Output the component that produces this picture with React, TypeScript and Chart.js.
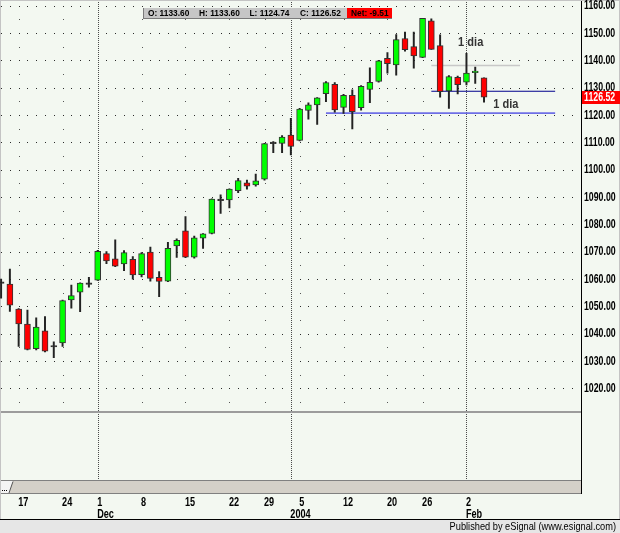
import React, { useEffect, useRef } from "react";
import { Chart, registerables } from "chart.js";

Chart.register(...registerables);

// ---- data (S&P 500 daily, Nov 13 2003 - Feb 4 2004) ----
const dates = [
  "2003-11-13", "2003-11-14", "2003-11-17", "2003-11-18", "2003-11-19", "2003-11-20", "2003-11-21",
  "2003-11-24", "2003-11-25", "2003-11-26", "2003-11-28",
  "2003-12-01", "2003-12-02", "2003-12-03", "2003-12-04", "2003-12-05",
  "2003-12-08", "2003-12-09", "2003-12-10", "2003-12-11", "2003-12-12",
  "2003-12-15", "2003-12-16", "2003-12-17", "2003-12-18", "2003-12-19",
  "2003-12-22", "2003-12-23", "2003-12-24", "2003-12-26",
  "2003-12-29", "2003-12-30", "2003-12-31", "2004-01-02",
  "2004-01-05", "2004-01-06", "2004-01-07", "2004-01-08", "2004-01-09",
  "2004-01-12", "2004-01-13", "2004-01-14", "2004-01-15", "2004-01-16",
  "2004-01-20", "2004-01-21", "2004-01-22", "2004-01-23",
  "2004-01-26", "2004-01-27", "2004-01-28", "2004-01-29", "2004-01-30",
  "2004-02-02", "2004-02-03", "2004-02-04",
];
const opens = [
  1058.6, 1058.1, 1049.0, 1043.5, 1034.5, 1041.0, 1035.1,
  1036.6, 1052.3, 1055.2, 1058.0,
  1059.6, 1069.3, 1067.4, 1065.5, 1067.2,
  1061.6, 1069.8, 1060.6, 1059.2, 1072.1,
  1077.6, 1068.0, 1074.9, 1076.7, 1088.9,
  1088.9, 1092.3, 1095.2, 1094.4,
  1096.5, 1109.5, 1109.6, 1112.7,
  1110.7, 1121.7, 1123.7, 1127.8, 1131.2,
  1122.8, 1127.2, 1122.7, 1129.4, 1132.3,
  1140.7, 1138.3, 1148.0, 1145.0,
  1141.1, 1154.5, 1145.4, 1128.8, 1133.8,
  1132.0, 1135.5, 1133.6,
];
const highs = [
  1060.0, 1063.6, 1049.2, 1048.6, 1045.8, 1046.2, 1037.0,
  1052.3, 1057.8, 1058.6, 1060.6,
  1070.5, 1070.0, 1074.3, 1070.4, 1068.2,
  1069.7, 1071.7, 1062.7, 1073.4, 1074.7,
  1082.8, 1075.7, 1076.6, 1089.3, 1090.8,
  1093.0, 1096.8, 1096.2, 1098.4,
  1109.6, 1110.3, 1112.5, 1118.8,
  1122.4, 1124.5, 1126.4, 1132.2, 1131.9,
  1127.6, 1129.2, 1130.8, 1137.3, 1140.0,
  1142.8, 1149.4, 1150.3, 1150.3,
  1155.4, 1155.2, 1149.3, 1134.4, 1134.2,
  1142.6, 1137.5, 1133.6,
];
const lows = [
  1053.0, 1048.1, 1035.3, 1034.0, 1034.0, 1033.3, 1031.2,
  1035.3, 1049.3, 1048.0, 1057.0,
  1059.5, 1065.6, 1064.5, 1063.0, 1059.9,
  1060.8, 1059.2, 1053.5, 1059.0, 1067.9,
  1067.8, 1067.6, 1071.2, 1076.5, 1084.0,
  1086.0, 1091.6, 1092.9, 1094.0,
  1096.2, 1106.2, 1106.2, 1105.4,
  1110.5, 1118.5, 1116.6, 1124.9, 1121.0,
  1120.6, 1114.9, 1121.8, 1124.5, 1132.0,
  1135.3, 1134.6, 1143.4, 1137.1,
  1141.0, 1144.0, 1126.5, 1122.4, 1127.7,
  1131.0, 1131.6, 1124.74,
];
const closes = [
  1058.4, 1050.4, 1043.6, 1034.2, 1042.4, 1033.6, 1035.3,
  1052.1, 1053.9, 1058.5, 1058.2,
  1070.1, 1066.6, 1064.7, 1069.7, 1061.5,
  1069.3, 1060.2, 1059.1, 1071.2, 1074.1,
  1068.0, 1075.1, 1076.5, 1089.2, 1088.7,
  1092.9, 1096.0, 1094.0, 1095.9,
  1109.5, 1109.6, 1111.9, 1108.5,
  1122.2, 1123.7, 1126.3, 1131.9, 1121.9,
  1127.2, 1121.2, 1130.5, 1132.0, 1139.8,
  1138.8, 1147.6, 1143.9, 1141.6,
  1155.4, 1144.0, 1128.5, 1134.1, 1131.1,
  1135.3, 1136.03, 1126.52,
];

const priceTicks = [1020, 1030, 1040, 1050, 1060, 1070, 1080, 1090, 1100, 1110, 1120, 1130, 1140, 1150, 1160];
const weekTickIndex = [2, 7, 11, 16, 21, 26, 30, 33, 34, 39, 44, 48, 53];
const weekTickDay = ["17", "24", "1", "8", "15", "22", "29", "", "5", "12", "20", "26", "2"];
const weekTickMonth = ["", "", "Dec", "", "", "", "", "2004", "", "", "", "", "Feb"];
const monthStartIndex = [11, 33, 53];

const levelValues = [1128.7, 1120.7, 1138.1];
const levelStart = [49, 37, 49];
const levelEnd = [63.1, 63.1, 59.1];
const levelColors = ["#00008c", "#6f6fe6", "#c8c8c8"];

const noteTexts = ["1 dia", "1 dia"];
const noteX = [52.05, 56.05];
const noteY = [1146.4, 1123.9];

const X_MIN = -0.125;
const X_MAX = 66.125;
const Y_MIN = 1011.33;
const Y_MAX = 1162.08;

const BG = "#f3f8f1";
const SANS = '"Liberation Sans", Arial, sans-serif';

function condensedText(ctx: any, text: string, x: number, y: number, font: string, sx: number, align: string) {
  ctx.save();
  ctx.translate(x, y);
  ctx.scale(sx, 1);
  ctx.font = font;
  ctx.textAlign = align;
  ctx.textBaseline = "middle";
  ctx.fillText(text, 0, 0);
  ctx.restore();
}

const esignalPlugin = {
  id: "esignal",
  beforeDraw(chart: any) {
    const { ctx, chartArea: ca } = chart;
    const xs = chart.scales.x;
    const ys = chart.scales.y;
    const W = chart.width;
    const H = chart.height;
    ctx.save();
    ctx.fillStyle = BG;
    ctx.fillRect(0, 0, W, H);

    const right = Math.floor(ca.right);
    const paneBottom = Math.round(ca.bottom);

    // dotted horizontal grid (one dot per trading day)
    ctx.fillStyle = "#2a2a2a";
    for (const v of priceTicks) {
      const py = Math.round(ys.getPixelForValue(v));
      for (let i = Math.ceil(X_MIN); i <= X_MAX; i++) {
        const px = Math.round(xs.getPixelForValue(i));
        if (px < 1 || px > right - 3) continue;
        if (monthStartIndex.includes(i)) continue;
        ctx.fillRect(px, py, 1, 1);
      }
    }
    // sparse half-step dots at week ticks
    ctx.fillStyle = "#555";
    const halfRows = priceTicks.map((v) => v - 5).concat([priceTicks[priceTicks.length - 1] + 5]);
    for (const hv of halfRows) {
      const py = Math.round(ys.getPixelForValue(hv));
      if (py > paneBottom - 2 || py < 1) continue;
      weekTickIndex.forEach((idx) => {
        if (monthStartIndex.includes(idx)) return;
        ctx.fillRect(Math.round(xs.getPixelForValue(idx)), py, 1, 1);
      });
    }

    // month separator dotted vertical lines
    ctx.strokeStyle = "#4a4a4a";
    ctx.lineWidth = 1;
    ctx.setLineDash([1, 1]);
    for (const idx of monthStartIndex) {
      const px = Math.round(xs.getPixelForValue(idx)) + 0.5;
      ctx.beginPath();
      ctx.moveTo(px, 0);
      ctx.lineTo(px, 480);
      ctx.stroke();
    }
    ctx.setLineDash([]);

    // separator between price pane and lower pane
    ctx.fillStyle = "#9c9c9c";
    ctx.fillRect(0, paneBottom - 1, right, 2);

    // scrollbar
    ctx.fillStyle = "#d4d0c8";
    ctx.fillRect(0, 481, right, 12);
    ctx.fillStyle = "#808080";
    ctx.fillRect(0, 480, right, 1);
    ctx.fillRect(0, 493, right, 1);
    ctx.fillStyle = "#f4f4f4";
    ctx.beginPath();
    ctx.moveTo(0, 481);
    ctx.lineTo(13, 481);
    ctx.lineTo(9, 493);
    ctx.lineTo(0, 493);
    ctx.closePath();
    ctx.fill();
    ctx.strokeStyle = "#555";
    ctx.beginPath();
    ctx.moveTo(13, 481.5);
    ctx.lineTo(9, 493);
    ctx.stroke();
    ctx.fillStyle = "#000";
    ctx.fillRect(2, 490, 1, 1);
    ctx.fillRect(4, 490, 1, 1);
    ctx.fillRect(6, 490, 1, 1);

    // right axis line
    ctx.fillStyle = "#000";
    ctx.fillRect(right, 0, 1, 494);

    // footer
    ctx.fillStyle = "#e6e6e6";
    ctx.fillRect(0, 520, W, H - 520);
    ctx.fillStyle = "#000";
    ctx.fillRect(0, 519, W, 1);
    condensedText(ctx, "Published by eSignal (www.esignal.com)", W - 4, 526.5, `11px ${SANS}`, 0.84, "right");

    // outer frame
    ctx.fillStyle = "#c4c4c4";
    ctx.fillRect(0, 0, W, 1);
    ctx.fillRect(0, 0, 1, 519);
    ctx.fillRect(W - 1, 0, 1, 519);
    ctx.restore();
  },
  afterDraw(chart: any) {
    const { ctx, chartArea: ca } = chart;
    const xs = chart.scales.x;
    const ys = chart.scales.y;
    const W = chart.width;
    const n = closes.length;
    ctx.save();
    ctx.fillStyle = "#000";

    // y axis labels (condensed bold)
    const axisFont = `bold 12px ${SANS}`;
    ys.ticks.forEach((t: any) => {
      condensedText(ctx, Number(t.value).toFixed(2), Math.floor(ca.right) + 3, ys.getPixelForValue(t.value) + 0.5, axisFont, 0.73, "left");
    });

    // x axis labels (two rows)
    xs.ticks.forEach((t: any, i: number) => {
      const px = xs.getPixelForValue(t.value) - 0.5;
      const d = weekTickDay[i];
      const m = weekTickMonth[i];
      if (d) condensedText(ctx, d, px, 502.5, axisFont, 0.76, "left");
      if (m) condensedText(ctx, m, px, 514.5, axisFont, 0.76, "left");
    });

    // annotations
    ctx.fillStyle = "#333";
    noteTexts.forEach((t, i) => {
      condensedText(ctx, t, xs.getPixelForValue(noteX[i]), ys.getPixelForValue(noteY[i]), `bold 12px ${SANS}`, 0.92, "left");
    });

    // last price label on axis
    const last = closes[n - 1];
    const py = Math.round(ys.getPixelForValue(last));
    const left = Math.floor(ca.right) + 1;
    ctx.fillStyle = "#ff0000";
    ctx.fillRect(left, py - 6, W - left, 13);
    ctx.fillStyle = "#ffffff";
    condensedText(ctx, last.toFixed(2), left + 2, py + 1, axisFont, 0.73, "left");

    // info header box
    const bx = 143, by = 8, bw = 249, bh = 10;
    ctx.fillStyle = "#c6c6c6";
    ctx.fillRect(bx, by, bw, bh);
    ctx.fillStyle = "#7a7a7a";
    ctx.fillRect(bx, by, 1, bh + 1);
    ctx.fillRect(bx, by + bh, bw, 1);
    ctx.fillStyle = "#ff0000";
    ctx.fillRect(347, by, bx + bw - 347, bh);
    ctx.fillStyle = "#000";
    const hdrFont = `bold 9.5px ${SANS}`;
    const fields = [
      `O: ${opens[n - 1].toFixed(2)}`,
      `H: ${highs[n - 1].toFixed(2)}`,
      `L: ${lows[n - 1].toFixed(2)}`,
      `C: ${closes[n - 1].toFixed(2)}`,
    ];
    const fx = [148, 199, 249.5, 300];
    fields.forEach((f, i) => condensedText(ctx, f, fx[i], by + bh / 2 + 0.5, hdrFont, 0.88, "left"));
    condensedText(ctx, `Net: ${(closes[n - 1] - closes[n - 2]).toFixed(2)}`, 351, by + bh / 2 + 0.5, hdrFont, 0.88, "left");
    ctx.restore();
  },
};

export default function App() {
  const canvasRef = useRef<HTMLCanvasElement | null>(null);

  useEffect(() => {
    const canvas = canvasRef.current;
    if (!canvas) return;

    const bodyColors = closes.map((c, i) =>
      Math.abs(c - opens[i]) < 0.3 ? "#222222" : c >= opens[i] ? "#00ff00" : "#ff0000"
    );

    const levelDatasets = levelValues.map((v, i) => ({
      type: "line" as const,
      data: [
        { x: levelStart[i], y: v },
        { x: levelEnd[i], y: v },
      ],
      borderColor: levelColors[i],
      borderWidth: i === 0 ? 1.2 : 1.6,
      pointRadius: 0,
      order: 3,
    }));

    const chart = new Chart(canvas, {
      type: "bar",
      data: {
        datasets: [
          {
            type: "bar",
            data: closes.map((c, i) => ({ x: i, y: [opens[i], c] })),
            backgroundColor: bodyColors,
            borderColor: "#333333",
            borderWidth: 1,
            borderSkipped: false,
            barThickness: 6,
            grouped: false,
            minBarLength: 1.5,
            order: 0,
          } as any,
          {
            type: "bar",
            data: highs.map((h, i) => ({ x: i, y: [lows[i], h] })),
            backgroundColor: "#222222",
            borderWidth: 0,
            barThickness: 1.3,
            grouped: false,
            order: 1,
          } as any,
          ...levelDatasets,
        ],
      },
      options: {
        responsive: false,
        maintainAspectRatio: false,
        animation: false,
        devicePixelRatio: 1,
        events: [],
        layout: { padding: 0 },
        plugins: {
          legend: { display: false },
          tooltip: { enabled: false },
          title: { display: false },
        },
        scales: {
          x: {
            type: "linear",
            min: X_MIN,
            max: X_MAX,
            offset: false,
            grid: { display: false, drawTicks: false },
            border: { display: false },
            afterBuildTicks: (scale: any) => {
              scale.ticks = weekTickIndex.map((v) => ({ value: v }));
            },
            afterFit: (scale: any) => {
              scale.height = 121;
              scale.paddingLeft = 0;
              scale.paddingRight = 0;
            },
            ticks: {
              autoSkip: false,
              maxRotation: 0,
              minRotation: 0,
              align: "start",
              padding: 84,
              color: "rgba(0,0,0,0)",
              font: { family: SANS, size: 11, weight: "bold", lineHeight: 1.1 },
              callback: (_v: any, index: number) => {
                const d = weekTickDay[index];
                const m = weekTickMonth[index];
                return m ? [d, m] : d;
              },
            },
          },
          y: {
            type: "linear",
            position: "right",
            min: Y_MIN,
            max: Y_MAX,
            beginAtZero: false,
            grid: { display: false, drawTicks: false },
            border: { display: false },
            afterBuildTicks: (scale: any) => {
              scale.ticks = priceTicks.map((v) => ({ value: v }));
            },
            afterFit: (scale: any) => {
              scale.width = 38.3;
              scale.paddingTop = 0;
              scale.paddingBottom = 0;
            },
            ticks: {
              padding: 3,
              color: "rgba(0,0,0,0)",
              font: { family: SANS, size: 11, weight: "bold" },
              callback: (v: any) => Number(v).toFixed(2),
            },
          },
        },
      } as any,
      plugins: [esignalPlugin],
    });

    return () => chart.destroy();
  }, []);

  return (
    <div style={{ position: "fixed", left: 0, top: 0, width: 620, height: 533, background: BG }}>
      <canvas ref={canvasRef} width={620} height={533} style={{ display: "block", width: 620, height: 533 }} />
    </div>
  );
}
